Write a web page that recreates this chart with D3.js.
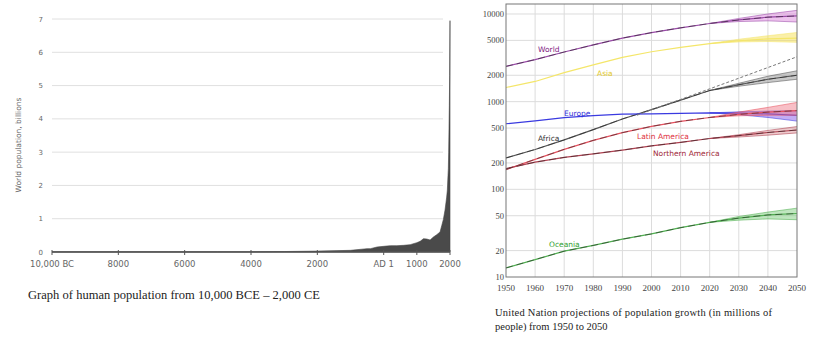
<!DOCTYPE html>
<html><head><meta charset="utf-8">
<script src="https://cdn.jsdelivr.net/npm/d3@7"></script>
<style>body{margin:0;background:#fff;}svg{display:block;}</style>
</head><body>
<svg id="c" width="813" height="337"></svg>
<script>
// ---------- Left chart data (year, billions) ----------
const histYears = [-10000,-8000,-6500,-5000,-4000,-3000,-2000,-1000,-500,-400,-200,1,200,400,600,800,1000,1100,1200,1300,1400,1500,1600,1700,1750,1800,1850,1900,1920,1940,1950,1960,1970,1980,1990,2000];
const histPop   = [0.004,0.005,0.005,0.005,0.007,0.014,0.027,0.05,0.1,0.1,0.15,0.17,0.19,0.19,0.2,0.22,0.28,0.32,0.4,0.39,0.36,0.45,0.52,0.6,0.79,0.98,1.26,1.65,1.86,2.3,2.5,3.0,3.7,4.4,5.3,6.95];
const leftYTicks = [0,1,2,3,4,5,6,7];
const leftXTicks = [-10000,-8000,-6000,-4000,-2000,1,1000,2000];
const leftXLabels = ["10,000 BC","8000","6000","4000","2000","AD 1","1000","2000"];

// ---------- Right chart data (millions) ----------
const years = [1950,1960,1970,1980,1990,2000,2010,2020,2030,2040,2050];
const projYears = [2020,2030,2040,2050];
const regionNames = ["World","Asia","Africa","Europe","Latin America","Northern America","Oceania"];
const world   = [2525,3018,3682,4440,5310,6127,6957,7795,8548,9198,9500];
const asia    = [1450,1700,2140,2630,3200,3710,4170,4600,4950,5200,5300];
const africa  = [228,285,366,480,635,810,1040,1340,1560,1800,2000];
const europe  = [560,605,657,694,721,726,736,745,740,725,700];
const latAm   = [168,220,286,362,443,522,597,660,715,760,790];
const northAm = [172,204,231,254,280,313,343,380,410,445,475];
const oceania = [12.7,15.8,19.7,22.9,27,31,36.5,42,47,51,53];
const worldLow = [7795,8200,8350,8100],  worldHigh = [7795,8900,10000,11000];
const asiaLow  = [4600,4800,4850,4750],  asiaHigh  = [4600,5150,5650,6150];
const africaLow= [1340,1500,1650,1800],  africaHigh= [1340,1620,1950,2250];
const europeLow= [745,710,660,600],      europeHigh= [745,765,780,790];
const latAmLow = [660,690,700,700],      latAmHigh = [660,760,860,980];
const northAmLow=[380,395,415,440],      northAmHigh=[380,420,470,520];
const oceaniaLow=[42,44.5,46,45],        oceaniaHigh=[42,49,55,61];
const trendYears = [1995,2000,2010,2020,2030,2040,2050];
const trendVals  = [700,810,1060,1400,1850,2450,3250];
const rightYTicks = [10,20,50,100,200,500,1000,2000,5000,10000];
const rightXTicks = [1950,1960,1970,1980,1990,2000,2010,2020,2030,2040,2050];

const svg = d3.select("#c");

// ================= LEFT CHART =================
const lx = d3.scaleLinear().domain([-10000,2000]).range([52,450]);
const ly = d3.scaleLinear().domain([0,7]).range([252,19]);
const L = svg.append("g");
L.append("g").selectAll("line").data(leftYTicks.filter(d=>d>0)).join("line")
  .attr("x1",lx(-10000)).attr("x2",443).attr("y1",d=>ly(d)).attr("y2",d=>ly(d))
  .attr("stroke","#e0e0e0").attr("stroke-width",1);
L.append("g").selectAll("text").data(leftYTicks).join("text")
  .attr("x",43).attr("y",d=>ly(d)+2.5).attr("text-anchor","end")
  .attr("font-family","DejaVu Sans").attr("font-size",7).attr("fill","#666").text(d=>d);
const hist = histYears.map((y,i)=>({y,v:histPop[i]}));
L.append("path").datum(hist)
  .attr("d",d3.area().x(d=>lx(d.y)).y0(ly(0)).y1(d=>ly(d.v)))
  .attr("fill","#4a4a4a").attr("stroke","#444").attr("stroke-width",0.6);
L.append("line").attr("x1",lx(-10000)).attr("x2",lx(2000)).attr("y1",ly(0)).attr("y2",ly(0))
  .attr("stroke","#555").attr("stroke-width",1.5);
L.append("g").selectAll("line").data(leftXTicks).join("line")
  .attr("x1",d=>lx(d)).attr("x2",d=>lx(d)).attr("y1",ly(0)-2).attr("y2",ly(0)+3)
  .attr("stroke","#555").attr("stroke-width",1);
L.append("g").selectAll("text").data(leftXTicks).join("text")
  .attr("x",d=>lx(d)).attr("y",267).attr("text-anchor","middle")
  .attr("font-family","DejaVu Sans").attr("font-size",8.5).attr("fill","#666")
  .text((d,i)=>leftXLabels[i]);
L.append("text").attr("transform","translate(21,145) rotate(-90)")
  .attr("text-anchor","middle").attr("font-family","DejaVu Sans").attr("font-size",7.5)
  .attr("fill","#666").text("World population, billions");
L.append("text").attr("x",28).attr("y",299).attr("font-family","Liberation Serif")
  .attr("font-size",12.5).attr("fill","#222").attr("textLength",292)
  .text("Graph of human population from 10,000 BCE \u2013 2,000 CE");

// ================= RIGHT CHART =================
const rx = d3.scaleLinear().domain([1950,2050]).range([506,797]);
const ry = d3.scaleLog().domain([10,13000]).range([277,4]);
const R = svg.append("g");
R.append("g").selectAll("line").data(rightXTicks.slice(1,-1)).join("line")
  .attr("x1",d=>rx(d)).attr("x2",d=>rx(d)).attr("y1",ry(13000)).attr("y2",ry(10))
  .attr("stroke","#dcdcdc");
R.append("g").selectAll("line").data(rightYTicks.slice(1)).join("line")
  .attr("x1",rx(1950)).attr("x2",rx(2050)).attr("y1",d=>ry(d)).attr("y2",d=>ry(d))
  .attr("stroke","#dcdcdc");

const series = [
  {name:"World", v:world, lo:worldLow, hi:worldHigh, c:"#9a4aa8", band:"#d67ad6", dash:true},
  {name:"Asia", v:asia, lo:asiaLow, hi:asiaHigh, c:"#f4e66a", band:"#f5dc40", dash:false},
  {name:"Africa", v:africa, lo:africaLow, hi:africaHigh, c:"#555", band:"#888", dash:true},
  {name:"Europe", v:europe, lo:europeLow, hi:europeHigh, c:"#3a3ae0", band:"#7a4ae8", dash:false},
  {name:"Latin America", v:latAm, lo:latAmLow, hi:latAmHigh, c:"#e8505e", band:"#f07080", dash:true},
  {name:"Northern America", v:northAm, lo:northAmLow, hi:northAmHigh, c:"#b04050", band:"#d88a90", dash:true},
  {name:"Oceania", v:oceania, lo:oceaniaLow, hi:oceaniaHigh, c:"#50b050", band:"#70c870", dash:true}
];
const line = d3.line().x(d=>rx(d[0])).y(d=>ry(d[1]));
const area = d3.area().x(d=>rx(d.y)).y0(d=>ry(d.lo)).y1(d=>ry(d.hi));
series.forEach(s=>{
  const pts = years.map((y,i)=>[y,s.v[i]]);
  const band = projYears.map((y,i)=>({y,lo:s.lo[i],hi:s.hi[i]}));
  R.append("path").datum(band).attr("d",area).attr("fill",s.band).attr("fill-opacity",0.45);
  R.append("path").datum(projYears.map((y,i)=>[y,s.lo[i]])).attr("d",line)
    .attr("fill","none").attr("stroke",s.c).attr("stroke-width",0.8).attr("stroke-opacity",0.7);
  R.append("path").datum(projYears.map((y,i)=>[y,s.hi[i]])).attr("d",line)
    .attr("fill","none").attr("stroke",s.c).attr("stroke-width",0.8).attr("stroke-opacity",0.7);
  R.append("path").datum(pts).attr("d",line).attr("fill","none")
    .attr("stroke",s.c).attr("stroke-width",1.2);
  if(s.dash) R.append("path").datum(pts).attr("d",line).attr("fill","none")
    .attr("stroke","#222").attr("stroke-width",0.9).attr("stroke-dasharray","7,4").attr("stroke-opacity",0.6);
});
R.append("path").datum(trendYears.map((y,i)=>[y,trendVals[i]])).attr("d",line)
  .attr("fill","none").attr("stroke","#777").attr("stroke-width",1).attr("stroke-dasharray","3,2");

R.append("rect").attr("x",rx(1950)).attr("y",ry(13000)).attr("width",rx(2050)-rx(1950))
  .attr("height",ry(10)-ry(13000)).attr("fill","none").attr("stroke","#777").attr("stroke-width",1);

R.append("g").selectAll("text").data(rightYTicks).join("text")
  .attr("x",504).attr("y",d=>ry(d)+3).attr("text-anchor","end")
  .attr("font-family","Liberation Serif").attr("font-size",8.5).attr("fill","#444").text(d=>d);
R.append("g").selectAll("text").data(rightXTicks).join("text")
  .attr("x",d=>rx(d)).attr("y",291).attr("text-anchor","middle")
  .attr("font-family","Liberation Serif").attr("font-size",9).attr("fill","#444").text(d=>d);

const labelPos = {"World":[538,52],"Asia":[597,76],"Africa":[538,141],"Europe":[564,116],
  "Latin America":[637,139],"Northern America":[653,156],"Oceania":[549,247]};
const labelCol = {"World":"#80207f","Asia":"#e2c82a","Africa":"#333","Europe":"#3030d8",
  "Latin America":"#e03040","Northern America":"#a02838","Oceania":"#30a030"};
R.append("g").selectAll("text").data(regionNames).join("text")
  .attr("x",d=>labelPos[d][0]).attr("y",d=>labelPos[d][1])
  .attr("font-family","DejaVu Sans").attr("font-size",7.5).attr("fill",d=>labelCol[d]).text(d=>d);

R.append("text").attr("x",495).attr("y",316).attr("font-family","Liberation Serif")
  .attr("font-size",10.5).attr("fill","#222").attr("textLength",277)
  .text("United Nation projections of population growth (in millions of");
R.append("text").attr("x",495).attr("y",330).attr("font-family","Liberation Serif")
  .attr("font-size",10.5).attr("fill","#222")
  .text("people) from 1950 to 2050");
</script>
</body></html>
